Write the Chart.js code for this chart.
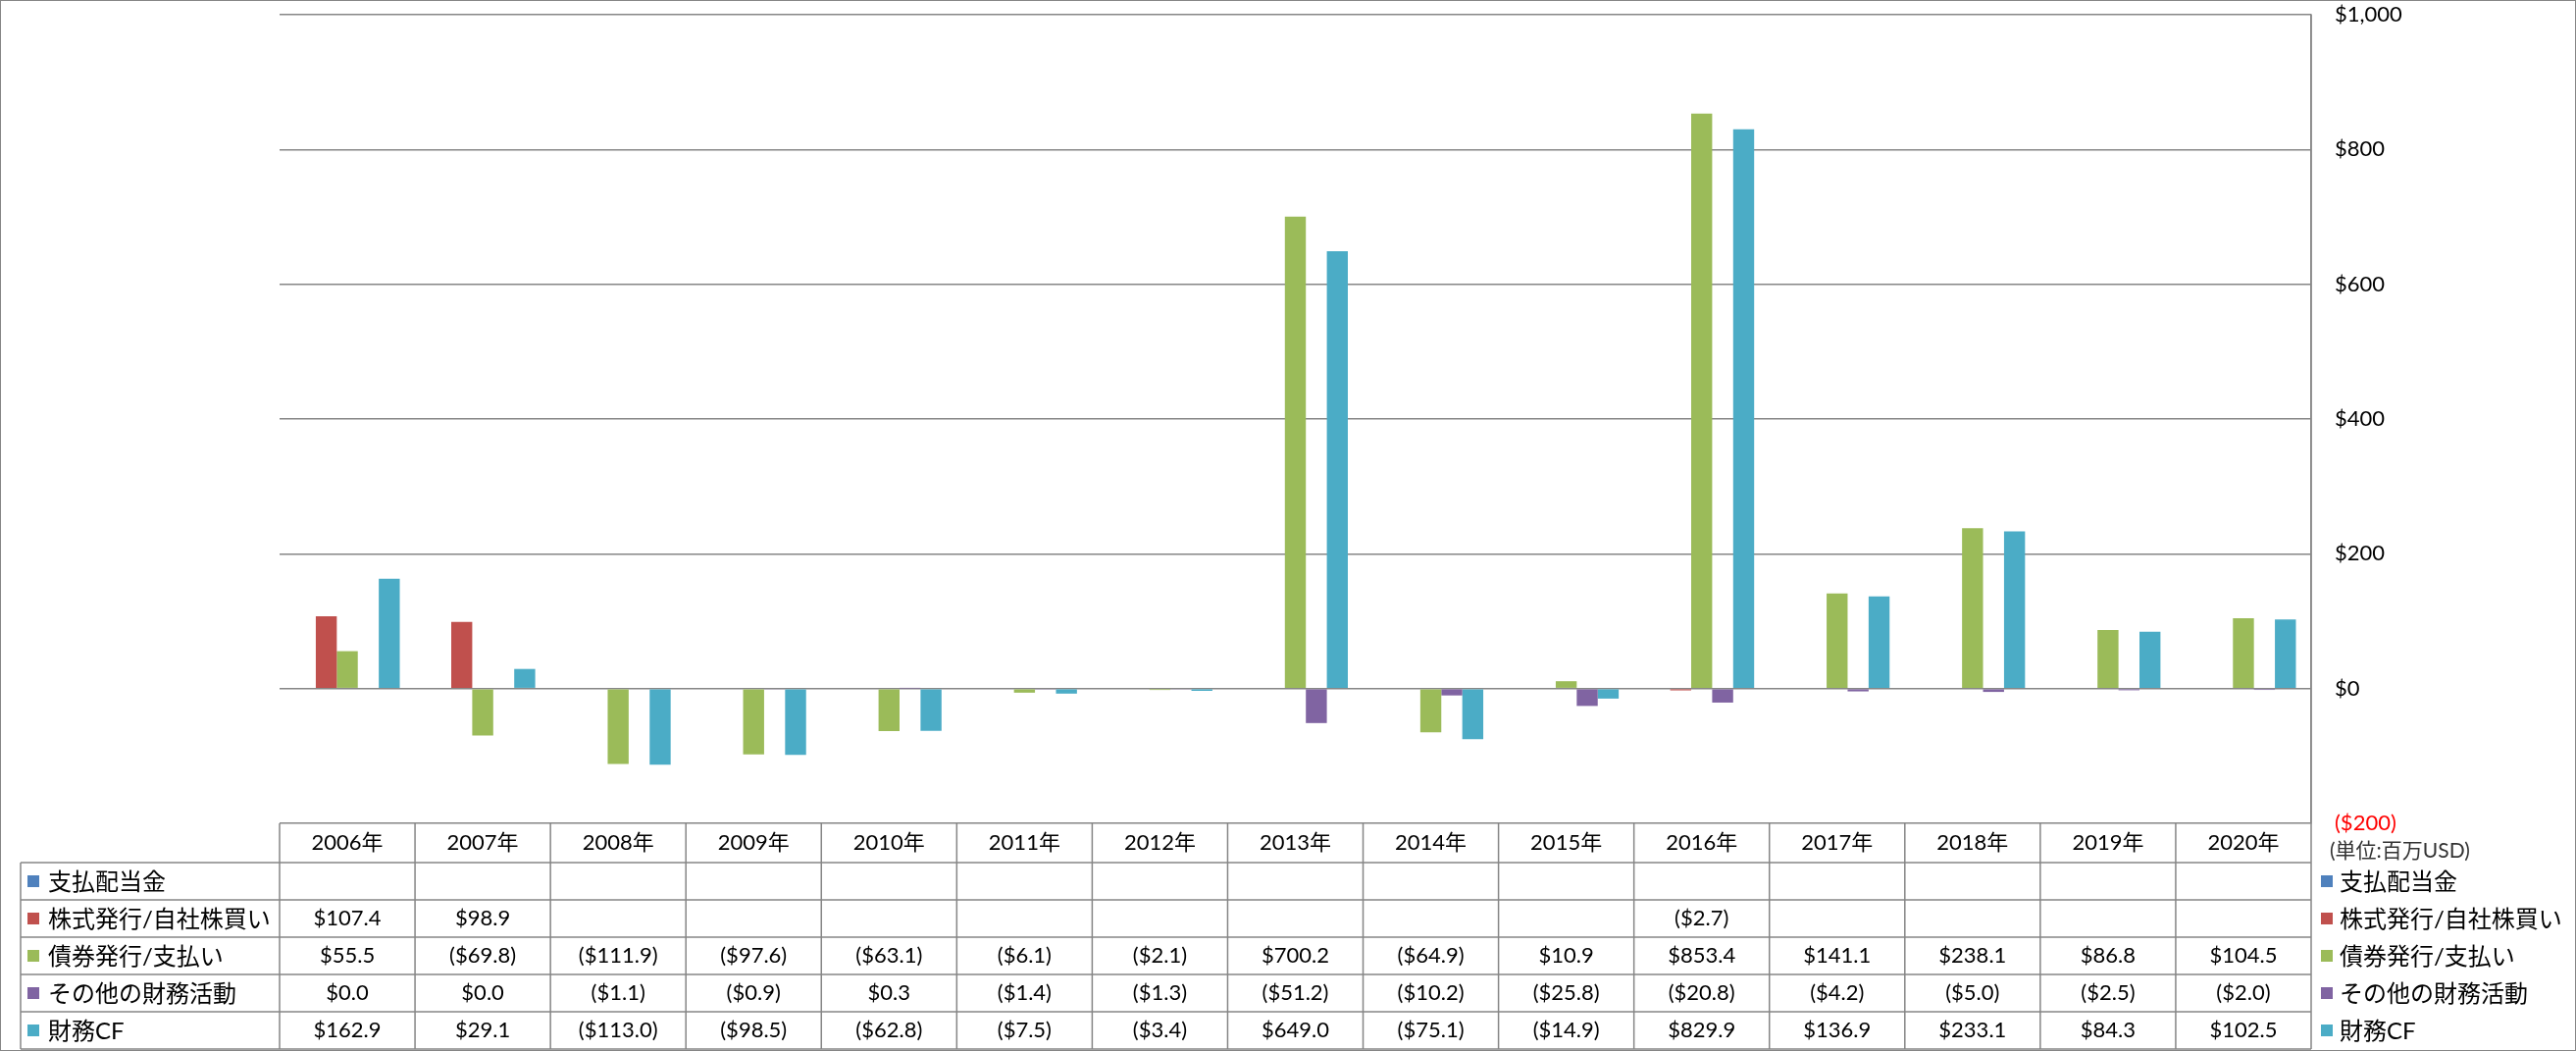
<!DOCTYPE html>
<html lang="ja">
<head>
<meta charset="utf-8">
<title>財務キャッシュフロー</title>
<script src="https://cdn.jsdelivr.net/npm/chart.js@4.4.1/dist/chart.umd.min.js"></script>
<style>
  html, body { margin: 0; padding: 0; background: #fff; }
  #wrap { width: 2626px; height: 1071px; position: relative; }
</style>
</head>
<body>
<div id="wrap"><canvas id="cfChart"></canvas></div>
<script>
// データ (単位: 百万USD)
var years = ['2006年', '2007年', '2008年', '2009年', '2010年', '2011年', '2012年', '2013年',
             '2014年', '2015年', '2016年', '2017年', '2018年', '2019年', '2020年'];
var dividends = [null, null, null, null, null, null, null, null, null, null, null, null, null, null, null];
var equity = [107.4, 98.9, null, null, null, null, null, null, null, null, -2.7, null, null, null, null];
var debt = [55.5, -69.8, -111.9, -97.6, -63.1, -6.1, -2.1, 700.2, -64.9, 10.9, 853.4, 141.1, 238.1, 86.8, 104.5];
var otherFin = [0.0, 0.0, -1.1, -0.9, 0.3, -1.4, -1.3, -51.2, -10.2, -25.8, -20.8, -4.2, -5.0, -2.5, -2.0];
var financingCF = [162.9, 29.1, -113.0, -98.5, -62.8, -7.5, -3.4, 649.0, -75.1, -14.9, 829.9, 136.9, 233.1, 84.3, 102.5];
var seriesNames = ['支払配当金', '株式発行/自社株買い', '債券発行/支払い', 'その他の財務活動', '財務CF'];
var yTicks = [-200, 0, 200, 400, 600, 800, 1000];

var seriesColors = ['#4F81BD', '#C0504D', '#9BBB59', '#8064A2', '#4BACC6'];
var seriesData = [dividends, equity, debt, otherFin, financingCF];
var gridColor = '#868686';
var fontFamily = "Lato, 'Noto Sans CJK JP', sans-serif";

function fmtMoney(v, digits) {
    if (v === null || v === undefined) return '';
    var s = '$' + Math.abs(v).toLocaleString('en-US', { minimumFractionDigits: digits, maximumFractionDigits: digits });
    return v < 0 ? '(' + s + ')' : s;
}

// 下部のデータテーブルと右側の凡例
var tablePlugin = {
    id: 'dataTable',
    afterDraw: function (chart) {
        var ctx = chart.ctx;
        var area = chart.chartArea;
        var xs = chart.scales.x;
        var colW = (area.right - area.left) / years.length;
        var headTop = area.bottom, headH = 40, rowH = 38;
        var bodyTop = headTop + headH;
        var bodyBottom = bodyTop + rowH * seriesNames.length;
        var labelLeft = 21;

        ctx.save();
        ctx.strokeStyle = gridColor;
        ctx.lineWidth = 1.5;
        ctx.beginPath();
        // 横線
        for (var r = 0; r <= seriesNames.length; r++) {
            var y = bodyTop + r * rowH;
            ctx.moveTo(labelLeft, y);
            ctx.lineTo(area.right, y);
        }
        // 縦線
        ctx.moveTo(labelLeft, bodyTop);
        ctx.lineTo(labelLeft, bodyBottom);
        for (var c = 0; c < years.length; c++) {
            var lx = area.left + c * colW;
            ctx.moveTo(lx, headTop);
            ctx.lineTo(lx, bodyBottom);
        }
        ctx.moveTo(area.right, area.top);
        ctx.lineTo(area.right, bodyBottom);
        ctx.stroke();

        // 年ヘッダー
        ctx.fillStyle = '#000';
        ctx.textAlign = 'center';
        ctx.textBaseline = 'middle';
        ctx.font = '22px ' + fontFamily;
        years.forEach(function (yr, i) {
            ctx.fillText(yr, xs.getPixelForValue(i), headTop + headH / 2);
        });

        // 値
        seriesData.forEach(function (arr, s) {
            var cy = bodyTop + s * rowH + rowH / 2;
            arr.forEach(function (v, i) {
                ctx.fillText(fmtMoney(v, 1), xs.getPixelForValue(i), cy);
            });
        });

        // 行ラベルと右側凡例
        ctx.textAlign = 'left';
        ctx.font = '24px ' + fontFamily;
        seriesNames.forEach(function (name, s) {
            var cy = bodyTop + s * rowH + rowH / 2;
            ctx.fillStyle = seriesColors[s];
            ctx.fillRect(28, cy - 6, 12, 12);
            ctx.fillRect(area.right + 10, cy - 6, 12, 12);
            ctx.fillStyle = '#000';
            ctx.fillText(name, 49, cy + 1);
            ctx.fillText(name, area.right + 29, cy + 1);
        });

        // 単位
        ctx.font = '21px ' + fontFamily;
        ctx.fillStyle = '#333';
        ctx.fillText('(単位:百万USD)', area.right + 19, headTop + 28);

        // 外枠
        ctx.strokeStyle = gridColor;
        ctx.lineWidth = 1;
        ctx.strokeRect(0.5, 0.5, chart.width - 1, chart.height - 1);
        ctx.restore();
    }
};

var ctx = document.getElementById('cfChart').getContext('2d');
var cfChart = new Chart(ctx, {
    type: 'bar',
    data: {
        labels: years,
        datasets: seriesNames.map(function (name, s) {
            return {
                label: name,
                data: seriesData[s],
                backgroundColor: seriesColors[s],
                borderWidth: 0,
                categoryPercentage: 0.775,
                barPercentage: 1.0
            };
        })
    },
    options: {
        responsive: true,
        maintainAspectRatio: false,
        animation: false,
        layout: { padding: { left: 285, top: 15, bottom: 232, right: 0 } },
        plugins: {
            legend: { display: false },
            tooltip: { enabled: false }
        },
        scales: {
            x: { display: false },
            y: {
                position: 'right',
                min: yTicks[0],
                max: yTicks[yTicks.length - 1],
                afterBuildTicks: function (scale) {
                    scale.ticks = yTicks.map(function (v) { return { value: v }; });
                },
                afterFit: function (scale) {
                    scale.width = 270;
                    scale.paddingTop = 0;
                    scale.paddingBottom = 0;
                },
                grid: { color: gridColor, lineWidth: 1.5, drawTicks: false },
                border: { display: true, color: gridColor, width: 1.5 },
                ticks: {
                    padding: 24,
                    font: { family: fontFamily, size: 22 },
                    color: function (c) { return c.tick && c.tick.value < 0 ? '#FF0000' : '#000'; },
                    callback: function (v) { return fmtMoney(v, 0); }
                }
            }
        }
    },
    plugins: [tablePlugin]
});
</script>
</body>
</html>
